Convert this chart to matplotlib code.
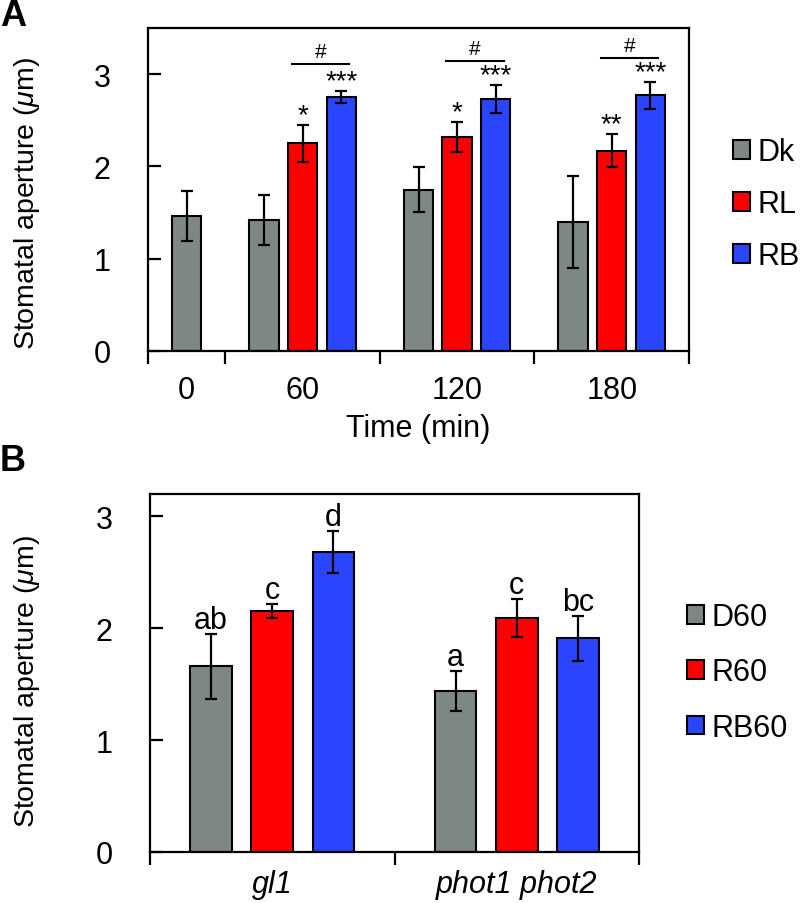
import matplotlib
matplotlib.use("Agg")
import matplotlib.pyplot as plt
import numpy as np

plt.rcParams['font.family'] = ['Liberation Sans', 'DejaVu Sans']
plt.rcParams['mathtext.fontset'] = 'custom'
plt.rcParams['mathtext.it'] = 'Liberation Sans:italic'
plt.rcParams['mathtext.rm'] = 'Liberation Sans'

# ---------------- Panel A data ----------------
time_labels = ["0", "60", "120", "180"]
a_series = ["Dk", "RL", "RB"]
dk_vals = [1.46, 1.42, 1.75, 1.40]
dk_errs = [0.27, 0.27, 0.24, 0.50]
rl_vals = [2.25, 2.32, 2.17]
rl_errs = [0.20, 0.16, 0.18]
rb_vals = [2.75, 2.73, 2.77]
rb_errs = [0.065, 0.155, 0.15]
rl_stars = ["*", "*", "**"]
rb_stars = ["***", "***", "***"]
bracket_heights = [3.11, 3.14, 3.17]

# ---------------- Panel B data ----------------
genotypes = ["gl1", "phot1 phot2"]
b_series = ["D60", "R60", "RB60"]
d60_vals = [1.66, 1.44]
d60_errs = [0.29, 0.18]
r60_vals = [2.155, 2.095]
r60_errs = [0.065, 0.17]
rb60_vals = [2.68, 1.91]
rb60_errs = [0.19, 0.20]
d60_letters = ["ab", "a"]
r60_letters = ["c", "c"]
rb60_letters = ["d", "bc"]

GRAY = "#7D8785"
RED = "#FF0000"
BLUE = "#2B45FF"
FS = 22
YFS = 20.5

fig = plt.figure(figsize=(8.0, 9.04), dpi=100)

err_kw = dict(ecolor="black", elinewidth=1.6, capsize=4.5, capthick=1.6)
bar_kw = dict(edgecolor="black", linewidth=1.5)

# ================= Panel A =================
axA = fig.add_axes([148/800, 1-352/904, (689-148)/800, (352-29)/904])
off = 0.25
wA = 0.19
dk_x = [0.25, 1 - off, 2 - off, 3 - off]
rl_x = [1, 2, 3]
rb_x = [1 + off, 2 + off, 3 + off]
bDk = axA.bar(dk_x, dk_vals, wA, color=GRAY, yerr=dk_errs, error_kw=err_kw, label="Dk", **bar_kw)
bRL = axA.bar(rl_x, rl_vals, wA, color=RED, yerr=rl_errs, error_kw=err_kw, label="RL", **bar_kw)
bRB = axA.bar(rb_x, rb_vals, wA, color=BLUE, yerr=rb_errs, error_kw=err_kw, label="RB", **bar_kw)

for x, v, e, s in zip(rl_x, rl_vals, rl_errs, rl_stars):
    axA.text(x, v + e + 0.03, s, ha="center", va="baseline", fontsize=20)
for x, v, e, s in zip(rb_x, rb_vals, rb_errs, rb_stars):
    axA.text(x, v + e + 0.03, s, ha="center", va="baseline", fontsize=20)
for i in range(3):
    ly = bracket_heights[i]
    axA.plot([rl_x[i] - 0.07, rb_x[i] + 0.05], [ly, ly], color="black", lw=1.5)
    axA.text((rl_x[i] + rb_x[i]) / 2 - 0.01, ly + 0.08, "#", ha="center", va="baseline", fontsize=15)

axA.set_xlim(0, 3.5)
axA.set_ylim(0, 3.5)
axA.set_yticks([0, 1, 2, 3])
axA.set_xticks([0, 0.5, 1.5, 2.5, 3.5])
axA.set_xticklabels([])
axA.set_xticks([0.25, 1, 2, 3], minor=True)
axA.set_xticklabels(time_labels, minor=True)
axA.tick_params(axis="x", which="major", direction="out", length=9, width=1.6)
axA.tick_params(axis="x", which="minor", length=0, labelsize=FS, pad=17)
axA.tick_params(axis="y", direction="in", length=9, width=1.6, labelsize=FS, pad=27)
for sp in axA.spines.values():
    sp.set_linewidth(1.6)
axA.set_xlabel("Time (min)", fontsize=FS, labelpad=6)
axA.set_ylabel("Stomatal aperture ($\\mathit{\\mu}$m)", fontsize=YFS)
axA.yaxis.set_label_coords(-0.196, 0.46)
axA.legend(handles=[bDk, bRL, bRB], labels=a_series, loc="center left",
           bbox_to_anchor=(733/800, 1-205.5/904), bbox_transform=fig.transFigure,
           frameon=False, fontsize=FS, handlelength=0.55, handleheight=0.55,
           handletextpad=0.26, labelspacing=0.72, borderpad=0, borderaxespad=0)
fig.text(0.0, 1 - 17/904, "A", fontsize=26, fontweight="bold", va="center", ha="left")

# ================= Panel B =================
axB = fig.add_axes([150/800, 1-853/904, (639-150)/800, (853-495)/904])
xg = np.arange(len(genotypes))
wB = 0.17
bD = axB.bar(xg - off, d60_vals, wB, color=GRAY, yerr=d60_errs, error_kw=err_kw, label="D60", **bar_kw)
bR = axB.bar(xg, r60_vals, wB, color=RED, yerr=r60_errs, error_kw=err_kw, label="R60", **bar_kw)
bB = axB.bar(xg + off, rb60_vals, wB, color=BLUE, yerr=rb60_errs, error_kw=err_kw, label="RB60", **bar_kw)
for xs, vals, errs, labs in [(xg - off, d60_vals, d60_errs, d60_letters),
                             (xg, r60_vals, r60_errs, r60_letters),
                             (xg + off, rb60_vals, rb60_errs, rb60_letters)]:
    for x, v, e, l in zip(xs, vals, errs, labs):
        axB.text(x, v + e + 0.05, l, ha="center", va="baseline", fontsize=FS)

axB.set_xlim(-0.5, 1.5)
axB.set_ylim(0, 3.2)
axB.set_yticks([0, 1, 2, 3])
axB.set_xticks([-0.5, 0.5, 1.5])
axB.set_xticklabels([])
axB.set_xticks(xg, minor=True)
axB.set_xticklabels(genotypes, minor=True, style="italic")
axB.tick_params(axis="x", which="major", direction="out", length=9, width=1.6)
axB.tick_params(axis="x", which="minor", length=0, labelsize=FS, pad=12)
axB.tick_params(axis="y", direction="in", length=9, width=1.6, labelsize=FS, pad=27)
for sp in axB.spines.values():
    sp.set_linewidth(1.6)
axB.set_ylabel("Stomatal aperture ($\\mathit{\\mu}$m)", fontsize=YFS)
axB.yaxis.set_label_coords(-0.221, 0.479)
axB.legend(handles=[bD, bR, bB], labels=b_series, loc="center left",
           bbox_to_anchor=(687/800, 1-673.5/904), bbox_transform=fig.transFigure,
           frameon=False, fontsize=FS, handlelength=0.55, handleheight=0.55,
           handletextpad=0.26, labelspacing=0.83, borderpad=0, borderaxespad=0)
fig.text(0.0, 1 - 462/904, "B", fontsize=26, fontweight="bold", va="center", ha="left")

fig.savefig("out.png", dpi=100)
